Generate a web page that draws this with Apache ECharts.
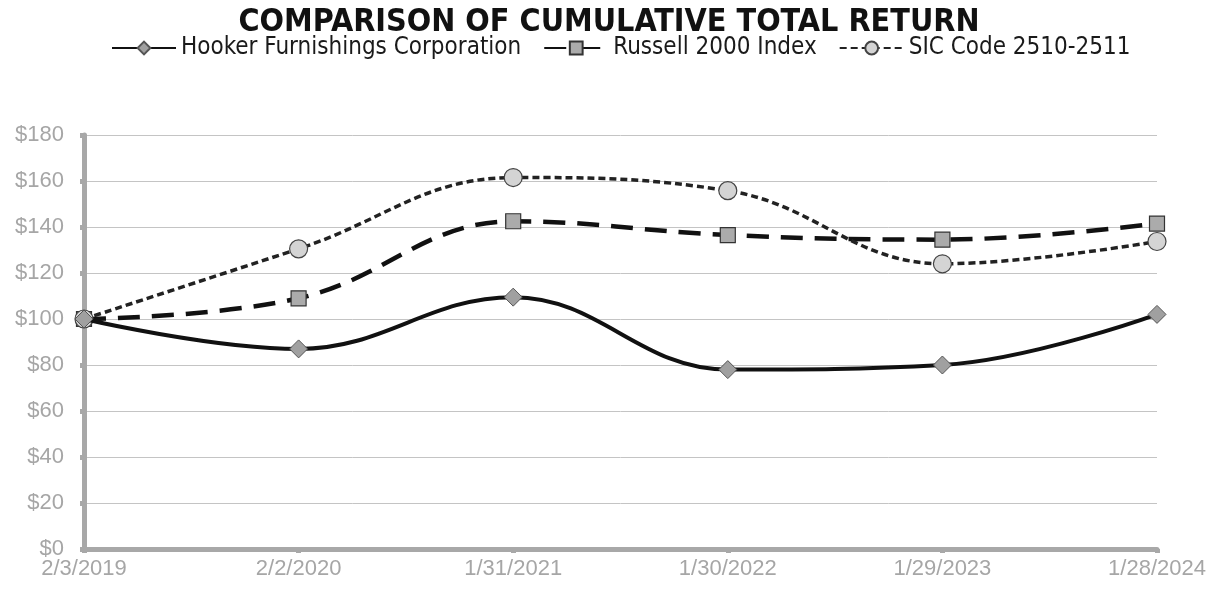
<!DOCTYPE html>
<html><head><meta charset="utf-8">
<script src="https://cdn.jsdelivr.net/npm/echarts@6/dist/echarts.min.js"></script>
<style>html,body{margin:0;padding:0;background:#fff}#c{width:1218px;height:591px}</style>
</head><body><div id="c"></div>
<script>
const categories = ['2/3/2019','2/2/2020','1/31/2021','1/30/2022','1/29/2023','1/28/2024'];
const hooker = [100, 87, 109.5, 78, 80, 102];
const russell = [100, 109, 142.5, 136.5, 134.5, 141.5];
const sic = [100, 130.5, 161.5, 155.8, 124, 133.7];
const yTicks = [0,20,40,60,80,100,120,140,160,180];
const titleText = 'COMPARISON OF CUMULATIVE TOTAL RETURN';
const names = ['Hooker Furnishings Corporation','Russell 2000 Index','SIC Code 2510-2511'];

const chart = echarts.init(document.getElementById('c'));
const narrow = "'DejaVu Sans Condensed',sans-serif";
const tickFont = "'Liberation Sans',Arial,sans-serif";
chart.setOption({
  animation:false,
  title:{text:titleText,left:'center',top:2,textStyle:{fontFamily:narrow,fontWeight:'bold',fontSize:32,color:'#111'}},
  legend:{top:31,left:106,itemWidth:64,itemHeight:16,itemGap:22,
    textStyle:{fontFamily:narrow,fontSize:24,color:'#1a1a1a'},data:names},
  grid:{left:84,right:61,top:135,bottom:42},
  xAxis:{type:'category',data:categories,boundaryGap:false,
    axisLine:{lineStyle:{color:'#a8a8a8',width:5}},
    axisTick:{show:true,alignWithLabel:true,length:4,lineStyle:{color:'#a8a8a8',width:5}},
    axisLabel:{color:'#a6a6a6',fontFamily:tickFont,fontSize:22,margin:9}},
  yAxis:{type:'value',min:0,max:180,interval:20,
    axisLine:{show:true,lineStyle:{color:'#a8a8a8',width:5}},
    axisTick:{show:true,length:4,lineStyle:{color:'#a8a8a8',width:5}},
    splitLine:{lineStyle:{color:'#c4c4c4',width:1}},
    axisLabel:{color:'#a6a6a6',fontFamily:tickFont,fontSize:22,margin:20,
      formatter:(v)=> yTicks.includes(v)?'$'+v:''}},
  series:[
    {name:names[0],type:'line',smooth:0.4,data:hooker,symbol:'diamond',symbolSize:18,
      lineStyle:{color:'#111',width:4},itemStyle:{color:'#a0a0a0',borderColor:'#555',borderWidth:1},z:3},
    {name:names[1],type:'line',smooth:0.4,data:russell,symbol:'rect',symbolSize:15,
      lineStyle:{color:'#111',width:4.5,type:[22,12]},itemStyle:{color:'#ababab',borderColor:'#333',borderWidth:1.2},z:2},
    {name:names[2],type:'line',smooth:0.4,data:sic,symbol:'circle',symbolSize:18,
      lineStyle:{color:'#222',width:3.5,type:[7,4]},itemStyle:{color:'#d4d4d4',borderColor:'#444',borderWidth:1.2},z:2}
  ]
});
</script></body></html>
